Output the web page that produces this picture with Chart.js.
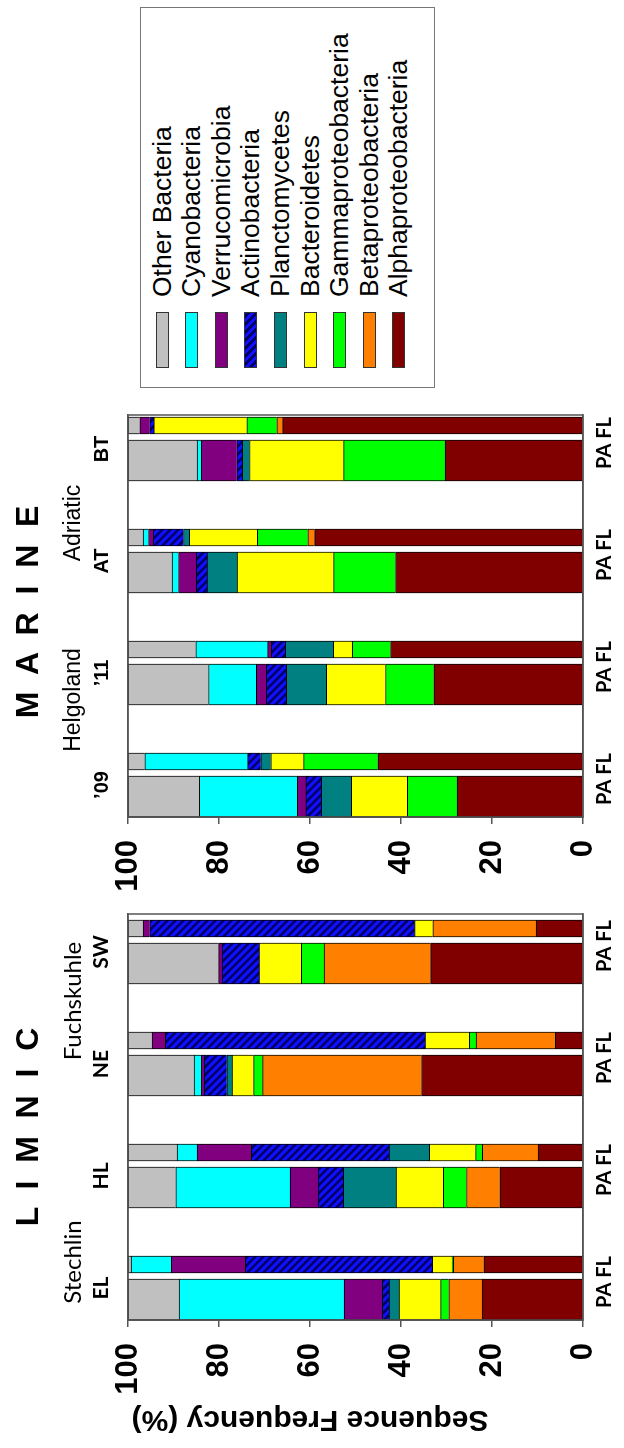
<!DOCTYPE html>
<html><head><meta charset="utf-8">
<script src="https://cdn.jsdelivr.net/npm/chart.js@4.4.1/dist/chart.umd.min.js"></script>
<style>
html,body{margin:0;padding:0;background:#fff;}
body{width:624px;height:1448px;overflow:hidden;position:relative;}
#fig{position:absolute;left:0;top:0;width:1448px;height:624px;transform-origin:0 0;transform:translate(0px,1448px) rotate(-90deg);background:#fff;}
.abs{position:absolute;white-space:pre;color:#000;line-height:1;text-align:center;}
.ptitle{font-family:'Liberation Sans',Arial,sans-serif;font-weight:bold;font-size:32px;width:400px;}
.grpA{font-family:'Liberation Sans',Arial,sans-serif;font-size:23px;width:200px;}
.grpL{font-family:'Lato',sans-serif;font-size:24px;width:200px;}
#ytitle{font-family:'Liberation Sans',Arial,sans-serif;font-weight:bold;font-size:30px;width:420px;height:36px;line-height:36px;transform:rotate(-90deg);}
#legend{position:absolute;left:1060px;top:140px;width:381px;height:295px;border:1.5px solid #777;box-sizing:border-box;}
.lrow{position:absolute;left:0;height:30px;display:flex;align-items:center;}
.sw{width:56px;height:13px;border:1.5px solid #333;box-sizing:border-box;margin-left:19px;margin-right:15px;}
.lt{font-family:'Liberation Sans',Arial,sans-serif;font-size:26.5px;white-space:nowrap;}
</style></head><body>
<div id="fig">
  <canvas id="limnic" width="560" height="624" style="position:absolute;left:0;top:0"></canvas>
  <canvas id="marine" width="560" height="624" style="position:absolute;left:500px;top:0"></canvas>
  <div class="abs ptitle" style="left:121px;top:11px">L  I  M  N  I  C</div>
  <div class="abs ptitle" style="left:636px;top:11px">M  A  R  I  N  E</div>
  <div class="abs grpL" style="left:86px;top:60px">Stechlin</div>
  <div class="abs grpL" style="left:347px;top:60px">Fuchskuhle</div>
  <div class="abs grpA" style="left:648px;top:61px">Helgoland</div>
  <div class="abs grpA" style="left:825px;top:61px">Adriatic</div>
  <div class="abs" id="ytitle" style="left:-183px;top:292px">Sequence Frequency (%)</div>
  <div id="legend"></div>
</div>
<script>
// ---- data ----
// taxa, bottom of stack first
const taxa = ['Alphaproteobacteria','Betaproteobacteria','Gammaproteobacteria','Bacteroidetes','Planctomycetes','Actinobacteria','Verrucomicrobia','Cyanobacteria','Other Bacteria'];
const limnicSites = ['EL','HL','NE','SW'];
const marineSites = ['\u201909','\u201911','AT','BT'];
const fractionTicks = ['PA FL'];
const valueTicks = [0,20,40,60,80,100];
// sample values (%), in taxa order
const EL_PA = [22.2, 7.3, 1.8, 9.1, 2.2, 1.5, 8.4, 36.3, 11.2];
const EL_FL = [21.8, 6.7, 0.3, 4.3, 0.0, 41.1, 16.3, 8.8, 0.7];
const HL_PA = [18.3, 7.3, 5.1, 10.4, 11.6, 5.5, 6.2, 25.1, 10.5];
const HL_FL = [9.9, 12.2, 1.5, 10.2, 8.8, 30.3, 11.9, 4.4, 10.8];
const NE_PA = [35.5, 34.9, 2.0, 4.7, 1.2, 4.9, 0.7, 1.6, 14.5];
const NE_FL = [6.1, 17.4, 1.5, 9.7, 0.0, 57.1, 2.9, 0.0, 5.3];
const SW_PA = [33.5, 23.4, 5.0, 9.3, 0.0, 8.1, 0.8, 0.0, 19.9];
const SW_FL = [10.3, 22.7, 0.0, 4.0, 0.0, 58.2, 1.5, 0.0, 3.3];
const H09_PA = [27.7, 0.0, 10.9, 12.3, 6.6, 3.4, 1.9, 21.5, 15.7];
const H09_FL = [45.1, 0.0, 16.3, 7.2, 2.2, 2.9, 0.0, 22.6, 3.7];
const H11_PA = [32.8, 0.0, 10.6, 13.0, 8.8, 4.4, 2.2, 10.5, 17.7];
const H11_FL = [42.3, 0.0, 8.4, 4.2, 10.5, 3.1, 0.8, 15.8, 14.9];
const AT_PA = [41.2, 0.0, 13.6, 21.2, 6.6, 2.4, 3.9, 1.4, 9.7];
const AT_FL = [59.0, 1.5, 11.1, 14.9, 1.3, 6.7, 1.0, 1.2, 3.3];
const BT_PA = [30.3, 0.0, 22.3, 20.7, 1.6, 1.2, 7.8, 0.9, 15.2];
const BT_FL = [66.0, 1.3, 6.6, 20.4, 0.0, 0.9, 2.2, 0.0, 2.6];

// ---- styles ----
const colors = ['#800000','#FF8000','#00FF00','#FFFF00','#008080',null,'#800080','#00FFFF','#C0C0C0'];
function hatch(){
  const c=document.createElement('canvas');c.width=8;c.height=8;
  const g=c.getContext('2d');
  g.fillStyle='#1010ff';g.fillRect(0,0,8,8);
  g.strokeStyle='#000066';g.lineWidth=2.6;
  g.beginPath();
  g.moveTo(-2,-2);g.lineTo(10,10);
  g.moveTo(-2,6);g.lineTo(2,10);
  g.moveTo(6,-2);g.lineTo(10,2);
  g.stroke();
  return g.createPattern(c,'repeat');
}
const hatchPattern = hatch();
const fill = i => colors[i] || hatchPattern;

const PX_PER_GROUP = 112, PA_W = 41, FL_W = 17, GAP = 6;
const PA_SLOT = PA_W + GAP, FL_SLOT = FL_W + GAP;
const LEFT_EXT = PA_SLOT/2 + PA_W/2; // px left of group anchor

const framePlugin = {
  id:'frame',
  afterDraw(chart){
    const a=chart.chartArea, ctx=chart.ctx;
    ctx.save();ctx.strokeStyle='#555';ctx.lineWidth=1.5;
    ctx.strokeRect(a.left,a.top,a.right-a.left,a.bottom-a.top);
    ctx.restore();
  }
};

function makeChart(id, sites, paRows, flRows, cfg){
  const datasets=[];
  taxa.forEach((name,t)=>{
    datasets.push({label:name, stack:'PA', data:paRows.map((r,i)=>({x:i,y:r[t]})),
      backgroundColor:fill(t), borderColor:'#000', borderWidth:1,
      barThickness:PA_SLOT, maxBarThickness:PA_W});
  });
  taxa.forEach((name,t)=>{
    datasets.push({label:name, stack:'FL', data:flRows.map((r,i)=>({x:i,y:r[t]})),
      backgroundColor:fill(t), borderColor:'#000', borderWidth:1,
      barThickness:FL_SLOT, maxBarThickness:FL_W});
  });
  const min = -LEFT_EXT/PX_PER_GROUP;
  const max = min + cfg.plotWidth/PX_PER_GROUP;
  const catTicks = s => { s.ticks = sites.map((_,i)=>({value:i})); };
  return new Chart(document.getElementById(id),{
    type:'bar',
    data:{datasets},
    plugins:[framePlugin],
    options:{
      responsive:false, animation:false, events:[],
      layout:{padding:{left:0,right:cfg.padRight,top:0,bottom:0}},
      plugins:{legend:{display:false},tooltip:{enabled:false}},
      scales:{
        x:{type:'linear',position:'bottom',min,max,offset:false,
          grid:{display:false,drawTicks:false},
          border:{display:true,color:'#555',width:1.5},
          afterBuildTicks:catTicks,
          afterFit:s=>{s.height=cfg.bottomH;},
          ticks:{callback:()=>fractionTicks[0],autoSkip:false,maxRotation:0,padding:10,labelOffset:-6,
            color:'#000',font:{family:'Lato',weight:'bold',size:20}}},
        x2:{type:'linear',position:'top',min,max,offset:false,
          grid:{display:false,drawTicks:false},
          border:{display:true,color:'#555',width:1.5},
          afterBuildTicks:catTicks,
          afterFit:s=>{s.height=cfg.topH;},
          ticks:{callback:v=>sites[Math.round(v)],autoSkip:false,maxRotation:0,padding:14,labelOffset:-12,
            color:'#000',font:cfg.catFont}},
        y:{stacked:true,min:0,max:100,
          afterBuildTicks:s=>{s.ticks=valueTicks.map(v=>({value:v}));},
          afterFit:s=>{s.width=cfg.leftW;},
          grid:{display:true,drawOnChartArea:false,drawTicks:true,tickLength:7,color:'#555',lineWidth:1.5},
          border:{display:true,color:'#555',width:1.5},
          ticks:{padding:16,color:'#000',font:{family:"'Liberation Sans', Arial, sans-serif",weight:'bold',size:31}}}
      }
    }
  });
}

makeChart('limnic', limnicSites, [EL_PA,HL_PA,NE_PA,SW_PA], [EL_FL,HL_FL,NE_FL,SW_FL],
  {plotWidth:406, padRight:26, topH:128, bottomH:41, leftW:128,
   catFont:{family:'Lato',weight:'bold',size:21}});
makeChart('marine', marineSites, [H09_PA,H11_PA,AT_PA,BT_PA], [H09_FL,H11_FL,AT_FL,BT_FL],
  {plotWidth:402, padRight:27, topH:128, bottomH:41, leftW:131,
   catFont:{family:"'Liberation Sans', Arial, sans-serif",weight:'bold',size:20}});

// legend (top entry = top of stack)
const leg=document.getElementById('legend');
taxa.slice().reverse().forEach((name,k)=>{
  const t=taxa.indexOf(name);
  const row=document.createElement('div');row.className='lrow';
  row.style.top=(6+k*29.6)+'px';
  const sw=document.createElement('div');sw.className='sw';
  if(colors[t]) sw.style.background=colors[t];
  else sw.style.background='repeating-linear-gradient(45deg,#1010ff 0 2.8px,#000066 2.8px 5.6px)';
  const tx=document.createElement('span');tx.className='lt';tx.textContent=name;
  row.appendChild(sw);row.appendChild(tx);leg.appendChild(row);
});
</script>
</body></html>
